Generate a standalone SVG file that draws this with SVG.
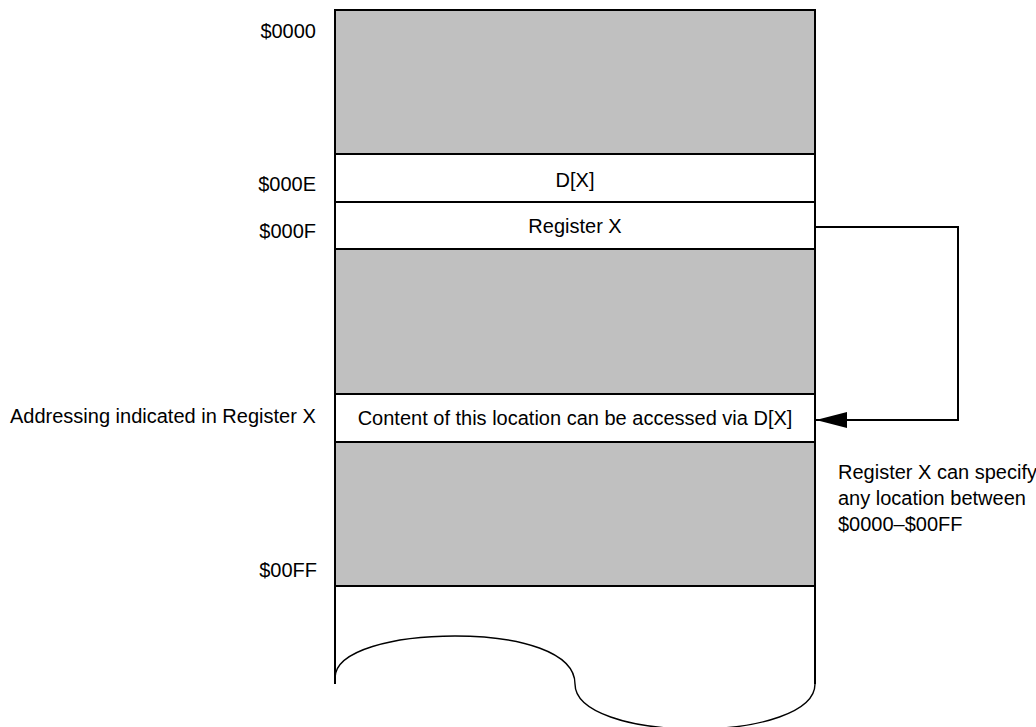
<svg xmlns="http://www.w3.org/2000/svg" width="1036" height="727" viewBox="0 0 1036 727">
  <style>
    text { font-family: "Liberation Sans", Arial, Helvetica, sans-serif; font-size: 20px; fill: #000; }
    .mid { text-anchor: middle; }
    .end { text-anchor: end; }
    .shade { fill: #c0c0c0; stroke: #000; stroke-width: 2; }
    .cell { fill: #fff; stroke: #000; stroke-width: 2; }
    .wire { fill: none; stroke: #000; stroke-width: 2; }
    .tear { fill: none; stroke: #000; stroke-width: 1.4; }
  </style>
  <defs>
    <marker id="head" viewBox="0 0 31 16" refX="31" refY="8" markerWidth="31" markerHeight="16" markerUnits="userSpaceOnUse" orient="auto">
      <path d="M0,0 L31,8 L0,16 Z" fill="#000"/>
    </marker>
  </defs>

  <rect width="1036" height="727" fill="#fff"/>

  <!-- memory map column -->
  <g id="block-low">
    <rect class="shade" x="335" y="10" width="480" height="144"/>
  </g>
  <g id="cell-dx">
    <rect class="cell" x="335" y="154" width="480" height="48"/>
    <text class="mid" x="575" y="187">D[X]</text>
  </g>
  <g id="cell-register-x">
    <rect class="cell" x="335" y="202" width="480" height="47"/>
    <text class="mid" x="575" y="233">Register X</text>
  </g>
  <g id="block-mid">
    <rect class="shade" x="335" y="249" width="480" height="145"/>
  </g>
  <g id="cell-target">
    <rect class="cell" x="335" y="394" width="480" height="48"/>
    <text class="mid" x="575" y="425">Content of this location can be accessed via D[X]</text>
  </g>
  <g id="block-high">
    <rect class="shade" x="335" y="442" width="480" height="144"/>
  </g>

  <!-- open-ended continuation with torn edge -->
  <g id="continuation">
    <path class="wire" d="M335,586 V684 M815,586 V684"/>
    <path class="tear" d="M335,678 C335,650 395,636 455,636 C520,636 575,652 575,684 C575,712 630,729 695,729 C760,729 815,712 815,684"/>
  </g>

  <!-- address labels -->
  <g id="addr-0000"><text class="end" x="316" y="38">$0000</text></g>
  <g id="addr-000E"><text class="end" x="316" y="191">$000E</text></g>
  <g id="addr-000F"><text class="end" x="316" y="238">$000F</text></g>
  <g id="addr-00FF"><text class="end" x="317" y="577">$00FF</text></g>
  <g id="addr-indirect"><text x="10" y="423">Addressing indicated in Register X</text></g>

  <g id="note">
    <text x="838" y="479">Register X can specify</text>
    <text x="838" y="505">any location between</text>
    <text x="838" y="531">$0000–$00FF</text>
  </g>

  <!-- pointer from Register X to the addressed location -->
  <g id="connectors">
    <path class="wire" d="M815,227 H958 V420 H816" marker-end="url(#head)"/>
  </g>
</svg>
